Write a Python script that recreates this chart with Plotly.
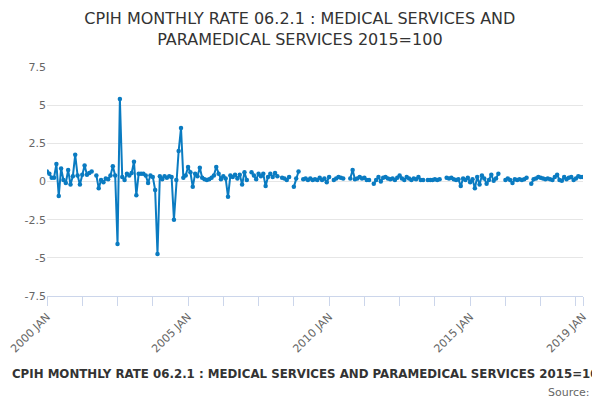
import plotly.graph_objects as go

MONTHS = ["JAN", "FEB", "MAR", "APR", "MAY", "JUN", "JUL", "AUG", "SEP", "OCT", "NOV", "DEC"]
categories = [f"{y} {m}" for y in range(2000, 2020) for m in MONTHS][:229]

N = None
values = [
    # 2000
    0.65, 0.5, 0.25, 0.25, 1.15, -0.95, 0.85, 0.1, -0.1, 0.75, -0.2, 0.35,
    # 2001
    1.75, 0.4, -0.2, 0.45, 1.05, 0.45, 0.55, 0.65, N, 0.4, -0.45, 0.1,
    # 2002
    -0.05, 0.2, 0.15, 0.4, 1.0, 0.4, -4.1, 5.4, 0.3, 0.1, 0.5, 0.4,
    # 2003
    0.55, 1.3, -0.9, 0.5, 0.5, 0.5, 0.4, -0.1, 0.4, 0.3, -0.55, -4.75,
    # 2004
    0.35, 0.15, 0.35, 0.25, 0.35, 0.3, -2.5, 0.1, 2.0, 3.5, 0.25, 0.4,
    # 2005
    0.95, 0.6, -0.35, 0.5, 0.35, 0.9, 0.25, 0.15, 0.1, 0.15, 0.25, 0.4,
    # 2006
    0.95, 0.5, 0.15, 0.35, 0.2, -1.0, 0.4, 0.3, 0.45, 0.2, 0.45, -0.2,
    # 2007
    0.6, 0.1, N, 0.6, 0.4, 0.15, 0.5, 0.35, 0.5, -0.3, 0.3, 0.5,
    # 2008
    0.3, 0.55, 0.35, N, 0.25, 0.2, 0.1, 0.3, N, -0.35, 0.2, 0.65,
    # 2009
    N, 0.15, 0.2, 0.1, 0.2, 0.1, 0.15, 0.1, 0.25, 0.1, 0.2, -0.05,
    # 2010
    0.3, N, 0.1, 0.2, 0.3, 0.25, 0.2, N, N, 0.2, 0.75, 0.15,
    # 2011
    0.2, 0.3, 0.2, 0.25, 0.1, 0.1, N, -0.15, 0.1, 0.3, 0.0, 0.25,
    # 2012
    0.3, 0.2, 0.15, 0.2, 0.1, 0.25, 0.4, 0.2, 0.1, 0.3, 0.2, 0.1,
    # 2013
    0.2, 0.15, 0.3, 0.1, 0.1, N, 0.1, 0.1, 0.1, 0.15, 0.1, 0.15,
    # 2014
    N, N, 0.25, 0.2, 0.25, 0.15, 0.1, 0.15, -0.3, 0.2, 0.1, 0.25,
    # 2015
    -0.05, 0.15, -0.45, 0.3, -0.2, 0.4, 0.2, -0.15, 0.1, 0.45, 0.05, 0.2,
    # 2016
    0.5, N, N, 0.1, 0.2, 0.1, -0.1, 0.15, 0.1, 0.15, 0.1, 0.15,
    # 2017
    0.25, N, -0.15, 0.15, 0.2, 0.3, 0.25, 0.2, 0.15, 0.2, 0.15, 0.1,
    # 2018
    0.3, 0.45, 0.1, 0.05, 0.3, 0.15, 0.25, 0.3, 0.1, 0.2, 0.35, 0.3,
    # 2019
    0.3,
]

label_idx = [0, 60, 120, 180, 228]
tick_idx = sorted(set(list(range(0, 229, 15)) + [228]))
tickvals = [categories[i] for i in tick_idx]
ticktext = [categories[i] if i in label_idx else "" for i in tick_idx]

series_name = "CPIH MONTHLY RATE 06.2.1 : MEDICAL SERVICES AND PARAMEDICAL SERVICES 2015=100"
title_text = "CPIH MONTHLY RATE 06.2.1 : MEDICAL SERVICES AND<br>PARAMEDICAL SERVICES 2015=100"
color = "#0a7bc1"
font = "DejaVu Sans"

fig = go.Figure()
fig.add_trace(go.Scatter(
    x=categories, y=values, mode="lines+markers", name=series_name,
    line=dict(color=color, width=2), marker=dict(color=color, size=4.5),
    connectgaps=False,
))

fig.update_layout(
    width=592, height=392,
    paper_bgcolor="white", plot_bgcolor="white",
    margin=dict(l=39, r=17, t=59, b=104, autoexpand=False),
    font=dict(family=font, color="#666666", size=11),
    title=dict(text=title_text, x=0.493, xanchor="center", y=0.958, yanchor="middle",
               xref="container", yref="container",
               font=dict(family=font, size=16, color="#333333")),
    showlegend=True,
    legend=dict(orientation="h", xref="paper", yref="paper",
                x=-0.14, xanchor="left", y=-0.336, yanchor="middle",
                font=dict(family=font, size=11.8, color="#333333", weight="bold"),
                itemwidth=30, bgcolor="rgba(0,0,0,0)"),
    xaxis=dict(type="category", range=[0, 228], tickmode="array", tickvals=tickvals,
               ticktext=ticktext, tickangle=-45, ticks="outside", ticklen=9,
               tickcolor="#ccd6eb", showline=True, linecolor="#ccd6eb", linewidth=1,
               showgrid=False, zeroline=False, automargin=False,
               tickfont=dict(size=11, color="#666666")),
    yaxis=dict(range=[-7.5, 7.5], tickmode="array", tickvals=[-7.5, -5, -2.5, 0, 2.5, 5, 7.5],
               ticktext=["-7.5", "-5", "-2.5", "0", "2.5", "5", "7.5"],
               showgrid=True, gridcolor="#e6e6e6", zeroline=False, showline=False,
               ticks="", automargin=False, tickfont=dict(size=11, color="#666666")),
    annotations=[dict(text="Source:", xref="paper", yref="paper", x=1.017, y=-0.423,
                      xanchor="right", yanchor="middle", showarrow=False,
                      font=dict(family=font, size=11, color="#666666"))],
)

fig.write_html("out.html")
